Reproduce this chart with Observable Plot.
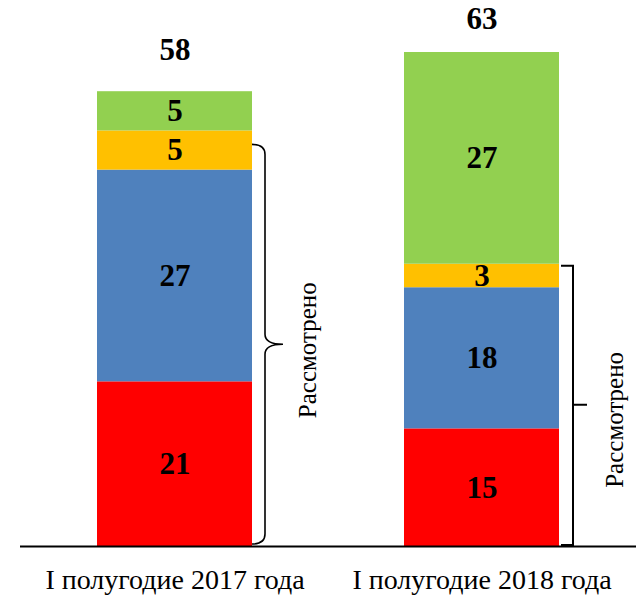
<!DOCTYPE html>
<html><head><meta charset="utf-8">
<script src="https://cdn.jsdelivr.net/npm/d3@7"></script>
<script src="https://cdn.jsdelivr.net/npm/@observablehq/plot@0.6"></script>
<style>body{margin:0;background:#fff}</style>
</head><body><div id="chart"></div>
<script>
const periods = ["I полугодие 2017 года", "I полугодие 2018 года"];
const seriesNames = ["Ряд 1", "Ряд 2", "Ряд 3", "Ряд 4"];
const seriesColors = ["#FF0000", "#4F81BD", "#FFC000", "#92D050"];
const values2017 = [21, 27, 5, 5];
const values2018 = [15, 18, 3, 27];
const bracketLabel = "Рассмотрено";
const bracketSeries = 3; // first three series are "Рассмотрено"

const data = [];
[values2017, values2018].forEach((vals, i) => {
  vals.forEach((v, j) => data.push({period: periods[i], series: seriesNames[j], value: v}));
});
const order = seriesNames;
const font = "'Liberation Serif', 'Times New Roman', serif";

const chart = Plot.plot({
  width: 636, height: 596,
  marginLeft: 20, marginRight: 0, marginTop: 52, marginBottom: 50,
  style: {fontFamily: font, background: "#fff", color: "#000"},
  x: {domain: periods, paddingInner: 0.495, paddingOuter: 0.25, label: null},
  y: {domain: [0, 63], axis: null},
  color: {domain: seriesNames, range: seriesColors},
  marks: [
    Plot.barY(data, {x: "period", y: "value", fill: "series", z: "series", order}),
    Plot.text(data, Plot.stackY({x: "period", y: "value", z: "series", text: "value", order,
      fontSize: 31, fontWeight: "bold", fill: "#000"})),
    Plot.text(data, Plot.groupX({y: "sum", text: "sum"}, {x: "period", y: "value", text: "value",
      filter: d => d.period === periods[0], dy: -42, fontSize: 31, fontWeight: "bold", fill: "#000"})),
    Plot.text(data, Plot.groupX({y: "sum", text: "sum"}, {x: "period", y: "value", text: "value",
      filter: d => d.period === periods[1], dy: -33, fontSize: 31, fontWeight: "bold", fill: "#000"})),
    Plot.ruleY([0], {stroke: "#000", strokeWidth: 2}),
    Plot.axisX({tickSize: 0, tickPadding: 23, fontSize: 28, label: null})
  ]
});
document.getElementById("chart").appendChild(chart);

// brackets drawn through the chart's own scales
const xs = chart.scale("x"), ys = chart.scale("y");
const svg = d3.select(chart);
const sums = [values2017, values2018].map(v => d3.sum(v.slice(0, bracketSeries)));
const g = svg.append("g").attr("fill", "none").attr("stroke", "#000").attr("stroke-width", 1.6);

// first: curly brace
{
  const R = xs.apply(periods[0]) + xs.bandwidth;
  const T = ys.apply(sums[0]) + 14, B = ys.apply(0) - 2, M = (T + B) / 2;
  const V = R + 13, P = R + 31;
  g.append("path").attr("d",
    `M${R},${T} Q${V},${T} ${V},${T + 10} L${V},${M - 10} Q${V},${M} ${P},${M}` +
    ` M${V},${M + 10} Q${V},${M} ${P},${M} M${V},${M + 10} L${V},${B - 10} Q${V},${B} ${R},${B}`);
  svg.append("text").attr("transform", `translate(${R + 58},${M + 6}) rotate(-90)`)
    .attr("text-anchor", "middle").attr("dominant-baseline", "middle")
    .attr("font-family", font).attr("font-size", 25).text(bracketLabel);
}
// second: square bracket
{
  const R = xs.apply(periods[1]) + xs.bandwidth;
  const T = ys.apply(sums[1]) + 2, B = ys.apply(0) - 1, M = ys.apply(sums[1] / 2);
  const V = R + 14;
  g.append("path").attr("d", `M${R + 2},${T} L${V},${T} L${V},${B} L${R + 2},${B} M${V},${M} L${V + 14},${M}`)
    .attr("stroke-width", 2);
  svg.append("text").attr("transform", `translate(${R + 58},${M + 15}) rotate(-90)`)
    .attr("text-anchor", "middle").attr("dominant-baseline", "middle")
    .attr("font-family", font).attr("font-size", 25).text(bracketLabel);
}
</script>
</body></html>
